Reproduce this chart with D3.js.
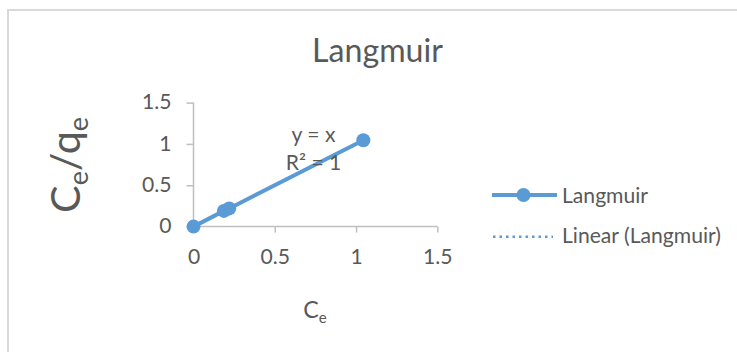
<!DOCTYPE html>
<html><head><meta charset="utf-8">
<script src="https://cdn.jsdelivr.net/npm/d3@7"></script>
<style>
html,body{margin:0;padding:0;background:#fff;}
svg{display:block;font-family:Lato, "Open Sans", sans-serif;}
</style></head>
<body><svg id="chart" width="737" height="352"></svg>
<script>
const chartTitle = "Langmuir";
const seriesName = "Langmuir";
const trendName = "Linear (Langmuir)";
const ceValues = [0, 0.187, 0.22, 1.045];
const ratioValues = [0, 0.19, 0.22, 1.045];
const xTicks = [0, 0.5, 1, 1.5];
const yTicks = [0, 0.5, 1, 1.5];
const equationLines = ["y = x", "R\u00b2 = 1"];

const blue = "#5B9BD5", txt = "#595959", axisCol = "#BFBFBF";
const svg = d3.select("#chart");

function fit(sel, target){
  const w = sel.node().getBBox().width;
  const fs = parseFloat(sel.attr("font-size"));
  sel.attr("font-size", fs*target/w);
  return fs*target/w;
}

// chart border
svg.append("rect").attr("x",8).attr("y",10).attr("width",760).attr("height",400)
  .attr("fill","none").attr("stroke","#D9D9D9").attr("stroke-width",2);

const x = d3.scaleLinear().domain([0,1.5]).range([193.5,437.3]);
const y = d3.scaleLinear().domain([0,1.5]).range([226.6,102.6]);

// title
const t = svg.append("text").attr("x",377.5).attr("y",62).attr("text-anchor","middle")
  .attr("font-size",30).attr("fill",txt).text(chartTitle);
fit(t,131);

// legend texts first to determine base font size
const leg = svg.append("g");
const l1 = leg.append("text").attr("x",562).attr("y",202.5).attr("font-size",20).attr("fill",txt).text(seriesName);
const l2 = leg.append("text").attr("x",562).attr("y",243).attr("font-size",20).attr("fill",txt).text(trendName);
const baseFs = fit(l2,159);
l1.attr("font-size",baseFs);

// axes
const xAxis = d3.axisBottom(x).tickValues(xTicks).tickSize(6).tickPadding(16).tickFormat(d3.format("~g"));
const yAxis = d3.axisLeft(y).tickValues(yTicks).tickSize(7).tickPadding(15).tickFormat(d3.format("~g"));
const gx = svg.append("g").attr("transform",`translate(0,${y(0)})`).call(xAxis);
const gy = svg.append("g").attr("transform",`translate(${x(0)},0)`).call(yAxis);
[gx,gy].forEach(g=>{
  g.select(".domain").attr("stroke",axisCol).attr("stroke-width",1.5);
  g.selectAll(".tick line").attr("stroke",axisCol).attr("stroke-width",1.5);
  g.selectAll(".tick text").attr("fill",txt).attr("font-size",baseFs).attr("font-family","Lato");
});
gx.select(".domain").attr("d",`M${x(0)},0H${x(1.5)}`);
gy.select(".domain").attr("d",`M0,${y(1.5)}V${y(0)}`);
gx.selectAll(".tick").filter(d=>d===0).select("line").remove();
gy.selectAll(".tick").filter(d=>d===0).select("line").remove();
gy.selectAll(".tick text").attr("dy","0.3em");

// axis titles
const xt = svg.append("text").attr("x",315).attr("y",318).attr("text-anchor","middle")
  .attr("font-size",baseFs*1.1).attr("fill",txt);
xt.append("tspan").text("C");
xt.append("tspan").attr("font-size","65%").attr("dy","0.3em").text("e");

const yt = svg.append("text").attr("transform","translate(80,165) rotate(-90)")
  .attr("text-anchor","middle").attr("font-size",40).attr("fill",txt);
yt.append("tspan").text("C");
yt.append("tspan").attr("font-size","65%").attr("dy","0.3em").text("e");
yt.append("tspan").attr("dy","-0.2em").text("/q");
yt.append("tspan").attr("font-size","65%").attr("dy","0.3em").text("e");
fit(yt,96);

// data
const pts = ceValues.map((c,i)=>({x:c,y:ratioValues[i]}));
const line = d3.line().x(d=>x(d.x)).y(d=>y(d.y));
svg.append("path").datum(pts).attr("d",line).attr("fill","none")
  .attr("stroke",blue).attr("stroke-width",4).attr("stroke-linejoin","round");

// linear trendline (least squares)
const mx = d3.mean(ceValues), my = d3.mean(ratioValues);
const slope = d3.sum(pts,d=>(d.x-mx)*(d.y-my))/d3.sum(pts,d=>(d.x-mx)**2);
const icpt = my - slope*mx;
const [x0,x1] = d3.extent(ceValues);
svg.append("path").datum([{x:x0,y:icpt+slope*x0},{x:x1,y:icpt+slope*x1}]).attr("d",line)
  .attr("fill","none").attr("stroke",blue).attr("stroke-width",2.5)
  .attr("stroke-dasharray","2.5,4");

svg.append("g").selectAll("circle").data(pts).join("circle")
  .attr("cx",d=>x(d.x)).attr("cy",d=>y(d.y)).attr("r",7).attr("fill",blue);

// equation
const eq = svg.append("text").attr("text-anchor","middle").attr("fill",txt).attr("font-size",baseFs);
eq.selectAll("tspan").data(equationLines).join("tspan")
  .attr("x",313.5).attr("y",(d,i)=>142.3+i*27.7).text(d=>d);

// legend symbols
leg.append("line").attr("x1",492).attr("x2",557).attr("y1",195).attr("y2",195)
  .attr("stroke",blue).attr("stroke-width",4);
leg.append("circle").attr("cx",523.5).attr("cy",195).attr("r",7).attr("fill",blue);
leg.append("line").attr("x1",493).attr("x2",553).attr("y1",236.7).attr("y2",236.7)
  .attr("stroke",blue).attr("stroke-width",2.5).attr("stroke-dasharray","2.5,4");
</script></body></html>
